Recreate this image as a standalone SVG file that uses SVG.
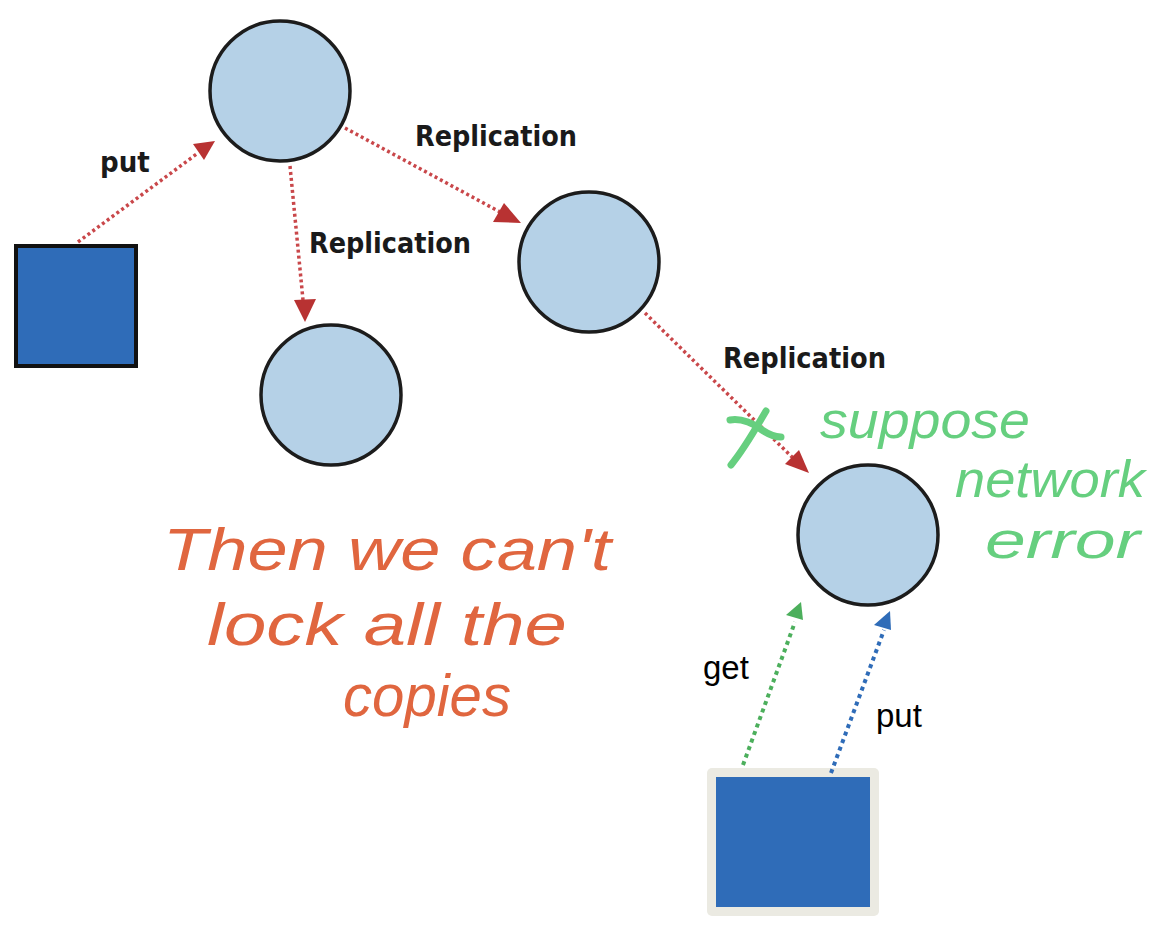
<svg xmlns="http://www.w3.org/2000/svg" width="1164" height="935" viewBox="0 0 1164 935">
<style>
.node{fill:#b5d1e7;stroke:#1c1c1c;stroke-width:3.5}
.client{fill:#2f6cb8;stroke:#111;stroke-width:4}
.red{stroke:#c9474a;stroke-width:3.5;stroke-dasharray:3 3;fill:none}
.grn{stroke:#4caf5c;stroke-width:4;stroke-dasharray:4 4;fill:none}
.blu{stroke:#2f6cb8;stroke-width:4;stroke-dasharray:4 4;fill:none}
.lbl{font-family:"Liberation Sans Narrow","DejaVu Sans Condensed","Liberation Sans",sans-serif;font-weight:bold;font-size:29px;fill:#1a1a1a}
.sans{font-family:"Liberation Sans",Arial,sans-serif;font-size:33px;fill:#000}
.hand-o{font-family:"Liberation Sans",sans-serif;font-style:italic;font-size:60px;fill:#e0663f}
.hand-g{font-family:"Liberation Sans",sans-serif;font-style:italic;font-size:52px;fill:#66cf7f}
</style>
<g id="client1"><rect class="client" x="16" y="246" width="120" height="120"/></g>
<g id="nodeA"><circle class="node" cx="280" cy="91" r="70"/></g>
<g id="nodeB"><circle class="node" cx="331" cy="395" r="70"/></g>
<g id="nodeC"><circle class="node" cx="589" cy="262" r="70"/></g>
<g id="nodeD"><circle class="node" cx="868" cy="535" r="70"/></g>
<g id="client2"><rect x="707" y="768" width="172" height="148" rx="5" fill="#ebeae2"/><rect x="716" y="777" width="154" height="130" fill="#2f6cb8"/></g>
<g id="connectors">
<line class="red" x1="78" y1="242" x2="198" y2="153"/>
<path d="M215,141 L193,144 L204,160 z" fill="#b83232"/>
<line class="red" x1="290" y1="166" x2="303" y2="300"/>
<path d="M305,322 L294,300 L316,299 z" fill="#b83232"/>
<line class="red" x1="345" y1="128" x2="500" y2="212"/>
<path d="M521,223 L504,203 L493,222 z" fill="#b83232"/>
<line class="red" x1="645" y1="313" x2="793" y2="458"/>
<path d="M809,473 L799,450 L785,464 z" fill="#b83232"/>
<line class="grn" x1="743" y1="765" x2="795" y2="622"/>
<path d="M801,602 L786,615 L803,620 z" fill="#4caf5c"/>
<line class="blu" x1="831" y1="773" x2="884" y2="630"/>
<path d="M890,611 L874,625 L891,630 z" fill="#2f6cb8"/>
</g>
<g id="labels">
<text class="lbl" x="100" y="172">put</text>
<text class="lbl" x="415" y="146" textLength="162" lengthAdjust="spacingAndGlyphs">Replication</text>
<text class="lbl" x="309" y="253" textLength="162" lengthAdjust="spacingAndGlyphs">Replication</text>
<text class="lbl" x="723" y="368" textLength="163" lengthAdjust="spacingAndGlyphs">Replication</text>
<text class="sans" x="703" y="679">get</text>
<text class="sans" x="876" y="727">put</text>
</g>
<g id="annotations">
<path d="M730,420 C742,418 755,424 762,430 C768,434 775,437 781,437 M766,411 C756,428 745,448 731,465" stroke="#66cf7f" stroke-width="7" fill="none" stroke-linecap="round" stroke-linejoin="round"/>
<text class="hand-g" x="820" y="438" textLength="210" lengthAdjust="spacingAndGlyphs">suppose</text>
<text class="hand-g" x="955" y="497" textLength="190" lengthAdjust="spacingAndGlyphs">network</text>
<text class="hand-g" x="985" y="558" textLength="155" lengthAdjust="spacingAndGlyphs">error</text>
<text class="hand-o" x="163" y="570" textLength="448" lengthAdjust="spacingAndGlyphs">Then we can't</text>
<text class="hand-o" x="207" y="645" textLength="360" lengthAdjust="spacingAndGlyphs">lock all the</text>
<text class="hand-o" x="343" y="716" font-size="56" textLength="168" lengthAdjust="spacingAndGlyphs">copies</text>
</g>
</svg>
